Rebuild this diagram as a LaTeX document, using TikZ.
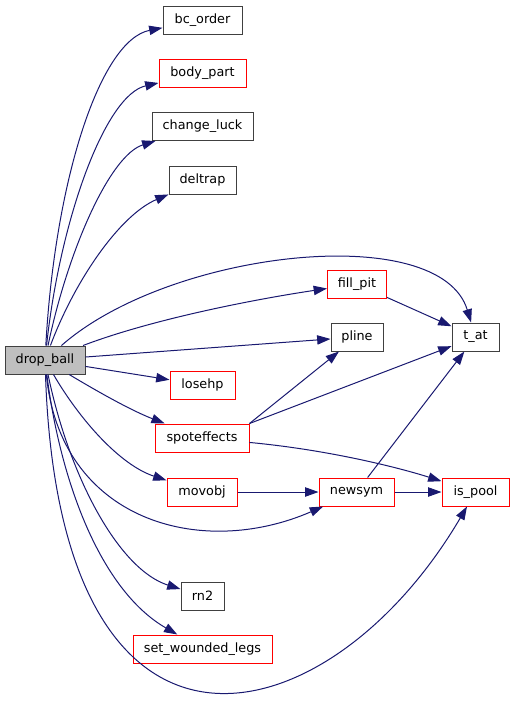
\documentclass[tikz,border=0pt]{standalone}
\usepackage{fontspec}
\setmainfont{DejaVu Sans}
\usetikzlibrary{arrows.meta}
\definecolor{edgeblue}{HTML}{191970}
\definecolor{boxgray}{HTML}{BFBFBF}
\definecolor{boxline}{HTML}{404040}

\begin{document}
\begin{tikzpicture}[x=0.75pt, y=-0.75pt,
		fn/.style={draw=boxline, line width=0.75pt, fill=white, minimum height=21pt,
			inner sep=0pt, font=\fontsize{9.6}{11}\selectfont},
		fnred/.style={fn, draw=red},
		fnroot/.style={fn, fill=boxgray},
		call/.style={draw=edgeblue, line width=0.75pt, -{Triangle[length=10pt,width=7pt]}, edgeblue}]
		
		\useasboundingbox (0,0) rectangle (515,704);
		
		%------------------------------------------------
		% Caller
		%------------------------------------------------
		\node [fnroot, minimum width=60pt] (drop_ball) at (45,360) {drop\_ball};
		
		%------------------------------------------------
		% Called functions
		%------------------------------------------------
		\node [fn, minimum width=59.25pt] (bc_order) at (202.5,20) {bc\_order};
		\node [fnred, minimum width=65.25pt] (body_part) at (202.5,73) {body\_part};
		\node [fn, minimum width=75.75pt] (change_luck) at (202.5,126.5) {change\_luck};
		\node [fn, minimum width=50.25pt] (deltrap) at (202.5,180) {deltrap};
		\node [fnred, minimum width=48.75pt] (losehp) at (202.5,385) {losehp};
		\node [fnred, minimum width=70.5pt] (spoteffects) at (202,438) {spoteffects};
		\node [fnred, minimum width=52.5pt] (movobj) at (202,492) {movobj};
		\node [fn, minimum width=32.25pt] (rn2) at (202.5,596) {rn2};
		\node [fnred, minimum width=104.25pt] (set_wounded_legs) at (202.5,649) {set\_wounded\_legs};
		
		\node [fnred, minimum width=44.25pt] (fill_pit) at (357,284) {fill\_pit};
		\node [fn, minimum width=39pt] (pline) at (357,337) {pline};
		\node [fnred, minimum width=56.25pt] (newsym) at (356.5,492) {newsym};
		
		\node [fn, minimum width=35.25pt] (t_at) at (475.5,337) {t\_at};
		\node [fnred, minimum width=50.25pt] (is_pool) at (475.5,492) {is\_pool};
		
		%------------------------------------------------
		% Calls from drop_ball
		%------------------------------------------------
		\draw [call] (drop_ball) .. controls (55,180) and (100,40) .. (bc_order);
		\draw [call] (drop_ball) .. controls (60,220) and (105,95) .. (body_part);
		\draw [call] (drop_ball) .. controls (68,250) and (110,155) .. (change_luck);
		\draw [call] (drop_ball) .. controls (75,280) and (120,215) .. (deltrap);
		\draw [call] (drop_ball) .. controls (170,250) and (440,220) .. (t_at);
		\draw [call] (drop_ball) .. controls (150,320) and (250,300) .. (fill_pit);
		\draw [call] (drop_ball) -- (pline);
		\draw [call] (drop_ball) -- (losehp);
		\draw [call] (drop_ball) .. controls (95,390) and (130,410) .. (spoteffects);
		\draw [call] (drop_ball) .. controls (80,420) and (120,465) .. (movobj);
		\draw [call] (drop_ball) .. controls (60,520) and (200,560) .. (newsym);
		\draw [call] (drop_ball) .. controls (70,480) and (120,570) .. (rn2);
		\draw [call] (drop_ball) .. controls (60,480) and (100,590) .. (set_wounded_legs);
		\draw [call] (drop_ball) .. controls (60,810) and (330,740) .. (is_pool);
		
		%------------------------------------------------
		% Further calls
		%------------------------------------------------
		\draw [call] (fill_pit) -- (t_at);
		\draw [call] (spoteffects.north east) -- (pline);
		\draw [call] (spoteffects.north east) -- (t_at);
		\draw [call] (spoteffects) .. controls (330,450) and (400,468) .. (is_pool);
		\draw [call] (movobj) -- (newsym);
		\draw [call] (newsym) -- (is_pool);
		\draw [call] (newsym) -- (t_at);
		
\end{tikzpicture}
\end{document}
